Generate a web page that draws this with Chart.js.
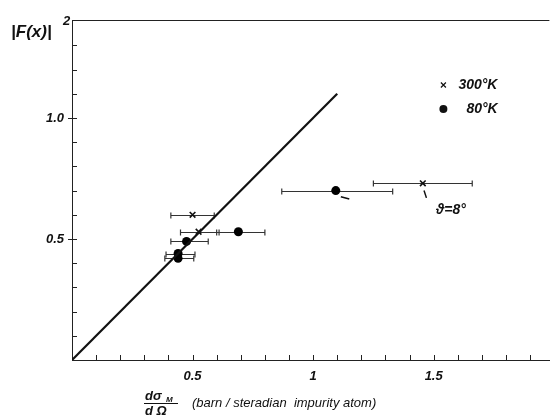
<!DOCTYPE html>
<html>
<head>
<meta charset="utf-8">
<script src="https://cdn.jsdelivr.net/npm/chart.js@4.4.1/dist/chart.umd.min.js"></script>
<style>
  html, body { margin: 0; padding: 0; background: #fff; }
  #wrap { width: 555px; height: 418px; }
</style>
</head>
<body>
<div id="wrap"><canvas id="chart" width="555" height="418"></canvas></div>
<script>
// Données
const seriesLabels = ['300°K', '80°K'];

// 300 K (croix)
const hotX   = [0.50, 0.525, 1.455];
const hotY   = [0.60, 0.53, 0.73];
const hotXLo = [0.41, 0.45, 1.25];
const hotXHi = [0.59, 0.61, 1.66];

// 80 K (points)
const coldX   = [0.69, 0.475, 0.44, 0.44, 1.094];
const coldY   = [0.53, 0.49, 0.44, 0.42, 0.70];
const coldXLo = [0.60, 0.41, 0.39, 0.385, 0.87];
const coldXHi = [0.80, 0.565, 0.51, 0.505, 1.33];

// droite |F|^2 = dσ/dΩ
const lineX = [0, 1.1];
const lineY = [0, 1.1];

const xTicks = [0.1, 0.2, 0.3, 0.4, 0.5, 0.6, 0.7, 0.8, 0.9, 1.0, 1.1, 1.2, 1.3, 1.4, 1.5, 1.6, 1.7, 1.8, 1.9];
const xTickLabels = { '0.5': '0.5', '1': '1', '1.5': '1.5' };
const yTicks = [0.1, 0.2, 0.3, 0.4, 0.5, 0.6, 0.7, 0.8, 0.9, 1.0, 1.1, 1.2, 1.3];
const yTickLabels = { '0.5': '0.5', '1': '1.0' };

const FONT = '"Liberation Sans", "DejaVu Sans", sans-serif';

const toPts = (xs, ys) => xs.map((x, i) => ({ x, y: ys[i] }));

// cadre, graduations, barres d'erreur, légende, textes
const figurePlugin = {
  id: 'figure',
  beforeDatasetsDraw(chart) {
    const { ctx, chartArea: a, scales: { x, y } } = chart;
    ctx.save();
    ctx.strokeStyle = '#222';
    ctx.lineWidth = 1;
    // ligne du haut
    ctx.beginPath();
    ctx.moveTo(a.left, a.top + 0.5);
    ctx.lineTo(a.right, a.top + 0.5);
    ctx.stroke();
    // graduations (vers l'intérieur)
    xTicks.forEach(v => {
      const px = Math.round(x.getPixelForValue(v)) + 0.5;
      ctx.beginPath();
      ctx.moveTo(px, a.bottom);
      ctx.lineTo(px, a.bottom - 5);
      ctx.stroke();
    });
    yTicks.forEach(v => {
      const py = Math.round(y.getPixelForValue(v)) + 0.5;
      const major = yTickLabels[String(v)] !== undefined;
      ctx.beginPath();
      ctx.moveTo(a.left - (major ? 4 : 0), py);
      ctx.lineTo(a.left + 5, py);
      ctx.stroke();
    });
    // barres d'erreur horizontales
    const bars = (xs, ys, lo, hi) => xs.forEach((_, i) => {
      const py = Math.round(y.getPixelForValue(ys[i])) + 0.5;
      const x0 = x.getPixelForValue(lo[i]);
      const x1 = x.getPixelForValue(hi[i]);
      ctx.strokeStyle = '#333';
      ctx.lineWidth = 1.2;
      ctx.beginPath();
      ctx.moveTo(x0, py); ctx.lineTo(x1, py);
      ctx.moveTo(x0, py - 3); ctx.lineTo(x0, py + 3);
      ctx.moveTo(x1, py - 3); ctx.lineTo(x1, py + 3);
      ctx.stroke();
    });
    bars(hotX, hotY, hotXLo, hotXHi);
    bars(coldX, coldY, coldXLo, coldXHi);
    ctx.restore();
  },
  afterDatasetsDraw(chart) {
    const { ctx, chartArea: a, scales: { x, y } } = chart;
    ctx.save();
    ctx.fillStyle = '#111';
    ctx.strokeStyle = '#111';

    // légende
    const lx = a.right - 106;
    ctx.lineWidth = 1.2;
    ctx.beginPath();
    ctx.moveTo(lx - 2.5, a.top + 62.5); ctx.lineTo(lx + 2.5, a.top + 67.5);
    ctx.moveTo(lx + 2.5, a.top + 62.5); ctx.lineTo(lx - 2.5, a.top + 67.5);
    ctx.stroke();
    ctx.beginPath();
    ctx.arc(lx, a.top + 89, 4, 0, Math.PI * 2);
    ctx.fill();
    ctx.font = 'italic bold 14px ' + FONT;
    ctx.textBaseline = 'middle';
    ctx.textAlign = 'left';
    ctx.fillText(seriesLabels[0], lx + 15, a.top + 65);
    ctx.fillText(seriesLabels[1], lx + 23, a.top + 89);

    // angle
    ctx.lineWidth = 1.5;
    ctx.beginPath();
    ctx.moveTo(x.getPixelForValue(1.115), y.getPixelForValue(0.675));
    ctx.lineTo(x.getPixelForValue(1.15), y.getPixelForValue(0.665));
    ctx.moveTo(x.getPixelForValue(1.46), y.getPixelForValue(0.70));
    ctx.lineTo(x.getPixelForValue(1.47), y.getPixelForValue(0.67));
    ctx.stroke();
    ctx.font = 'italic bold 14px ' + FONT;
    ctx.fillText('ϑ=8°', x.getPixelForValue(1.51), y.getPixelForValue(0.62));

    // titre de l'axe y
    ctx.font = 'italic bold 17px ' + FONT;
    ctx.textBaseline = 'alphabetic';
    ctx.fillText('|F(x)|', 11, 37);
    ctx.font = 'italic bold 13px ' + FONT;
    ctx.fillText('2', 63, 25);

    // titre de l'axe x
    ctx.font = 'italic bold 13px ' + FONT;
    ctx.fillText('dσ', 145, 400);
    ctx.font = 'italic bold 8px ' + FONT;
    ctx.fillText('M', 166, 402);
    ctx.font = 'italic bold 13px ' + FONT;
    ctx.fillText('d Ω', 145, 415);
    ctx.lineWidth = 1;
    ctx.beginPath();
    ctx.moveTo(144, 403.5); ctx.lineTo(178, 403.5);
    ctx.stroke();
    ctx.font = 'italic 13px ' + FONT;
    ctx.fillText('(barn / steradian  impurity atom)', 192, 407);
    ctx.restore();
  }
};

new Chart(document.getElementById('chart'), {
  type: 'scatter',
  data: {
    datasets: [
      {
        label: 'y = x',
        data: toPts(lineX, lineY),
        showLine: true,
        borderColor: '#111',
        borderWidth: 2.2,
        pointRadius: 0
      },
      {
        label: seriesLabels[0],
        data: toPts(hotX, hotY),
        pointStyle: 'crossRot',
        pointRadius: 4,
        borderColor: '#111',
        borderWidth: 1.6
      },
      {
        label: seriesLabels[1],
        data: toPts(coldX, coldY),
        pointStyle: 'circle',
        pointRadius: 4.5,
        backgroundColor: '#000',
        borderColor: '#000',
        borderWidth: 0
      }
    ]
  },
  options: {
    responsive: false,
    animation: false,
    devicePixelRatio: 1,
    layout: { padding: { top: 20, right: 0, left: 0, bottom: 0 } },
    plugins: { legend: { display: false }, tooltip: { enabled: false } },
    scales: {
      x: {
        type: 'linear', min: 0, max: 1.98,
        afterBuildTicks: s => { s.ticks = xTicks.map(v => ({ value: v })); },
        afterFit: s => { s.height = 58; },
        grid: { display: false, drawTicks: false },
        border: { display: true, color: '#222', width: 1 },
        ticks: {
          autoSkip: false, maxRotation: 0, padding: 9,
          color: '#111',
          font: { family: FONT, style: 'italic', weight: 'bold', size: 13 },
          callback: v => xTickLabels[String(Math.round(v * 10) / 10)] || ''
        }
      },
      y: {
        type: 'linear', min: 0, max: 1.405,
        afterBuildTicks: s => { s.ticks = yTicks.map(v => ({ value: v })); },
        afterFit: s => { s.width = 72; },
        grid: { display: false, drawTicks: false },
        border: { display: true, color: '#222', width: 1 },
        ticks: {
          autoSkip: false, padding: 8,
          color: '#111',
          font: { family: FONT, style: 'italic', weight: 'bold', size: 13 },
          callback: v => yTickLabels[String(Math.round(v * 10) / 10)] || ''
        }
      }
    }
  },
  plugins: [figurePlugin]
});
</script>
</body>
</html>
